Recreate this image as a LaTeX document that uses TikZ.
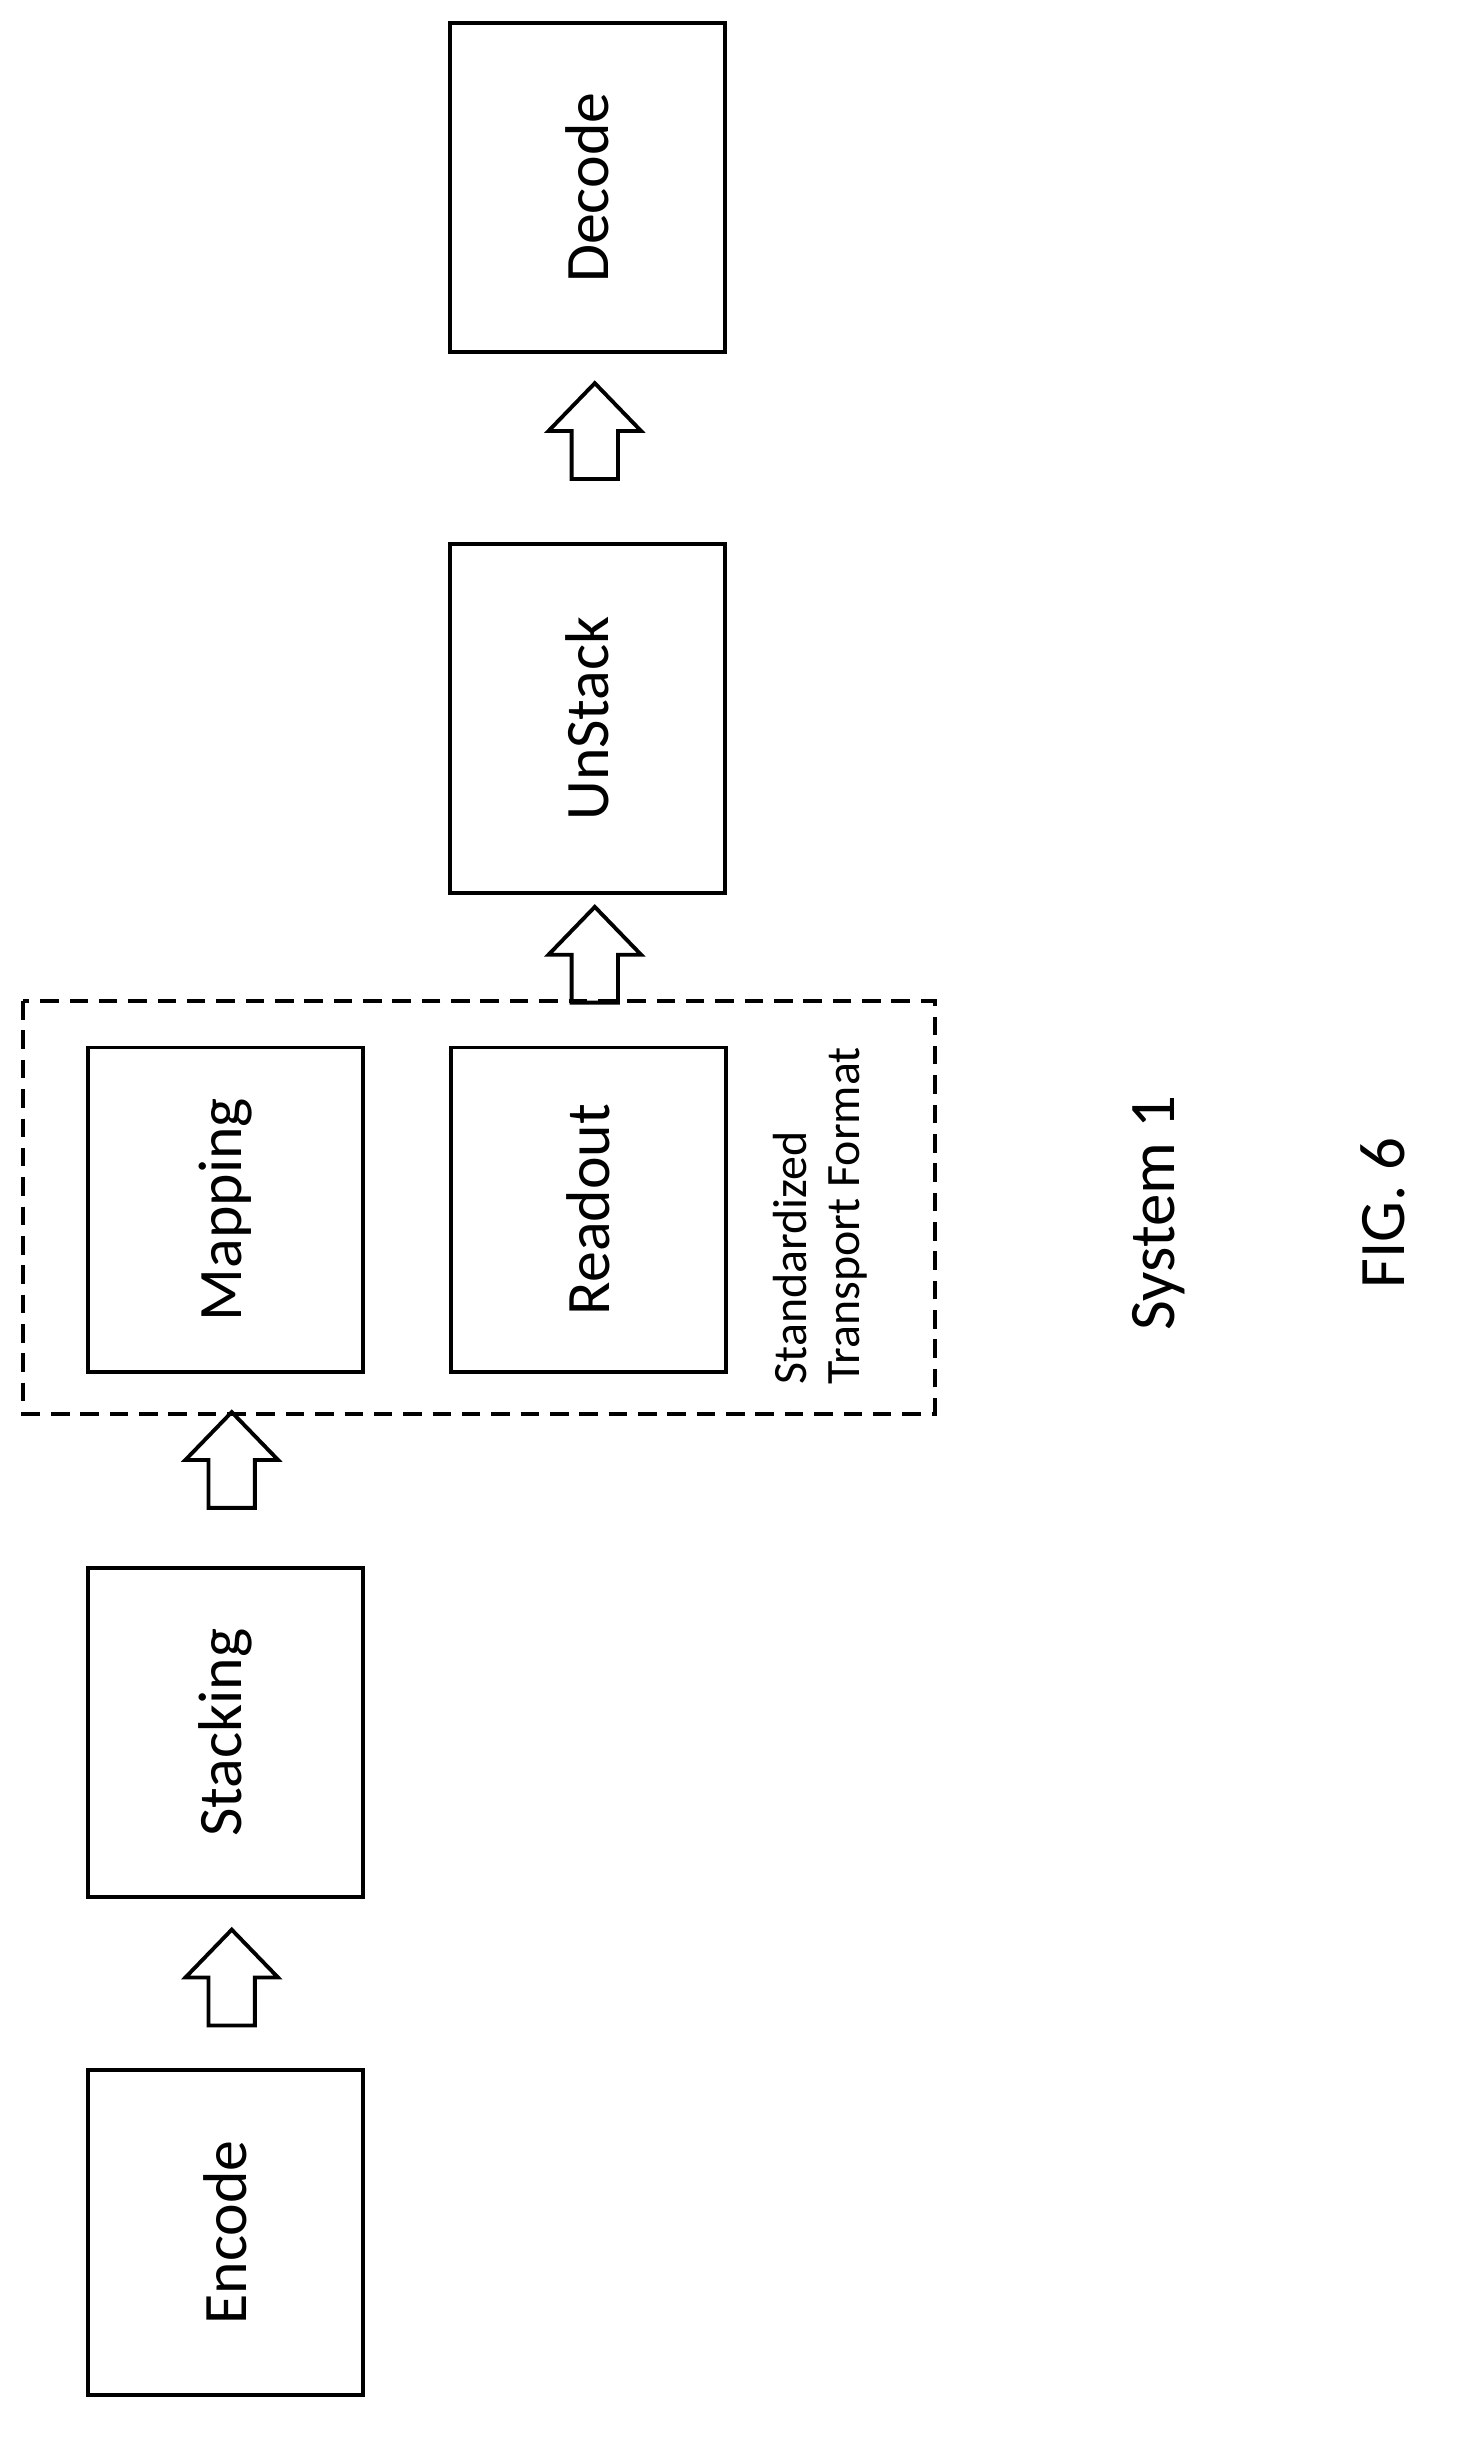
\documentclass[tikz,border=0pt]{standalone}
\usepackage{fontspec}
\setmainfont{Carlito}
\begin{document}
\begin{tikzpicture}[x=1pt,y=-1pt,
  box/.style={draw,line width=2.5pt,minimum width=178pt,minimum height=212pt,inner sep=0pt},
  lbl/.style={rotate=90,font=\fontsize{40}{44}\selectfont},
  up/.style={draw,line width=2.5pt,line join=miter}]
\newcommand\uparr[2]{\draw[up] (#1,#2) -- ++(30,31) -- ++(-15,0) -- ++(0,31) -- ++(-30,0) -- ++(0,-31) -- ++(-15,0) -- cycle;}
\useasboundingbox (0,0) rectangle (943,1580);
\node[box,minimum height=213pt] (decode) at (380,121.5) {};
\node[lbl] at (decode) {Decode};
\node[box,minimum height=226pt] (unstack) at (380,465) {};
\node[lbl] at (unstack) {UnStack};
\node[box,minimum height=210pt] (mapping) at (146,783) {};
\node[lbl] at (mapping) {Mapping};
\node[box,minimum height=210pt] (readout) at (381,783) {};
\node[lbl] at (readout) {Readout};
\node[box,minimum height=213pt] (stacking) at (146,1121.5) {};
\node[lbl] at (stacking) {Stacking};
\node[box,minimum height=210pt] (encode) at (146,1445) {};
\node[lbl] at (encode) {Encode};
\draw[dashed,line width=2.5pt,dash pattern=on 12pt off 7pt] (15,648) rectangle (605,915);
\node[rotate=90,font=\fontsize{31}{34}\selectfont,align=left,anchor=center] (stf) at (531,787) {Standardized\\Transport Format};
\uparr{385}{248}
\uparr{385}{587}
\uparr{150}{914}
\uparr{150}{1249}
\node[lbl,font=\fontsize{42}{46}\selectfont] (sys) at (750,785) {System 1};
\node[lbl,font=\fontsize{42}{46}\selectfont] (fig) at (895,785) {FIG. 6};
\end{tikzpicture}
\end{document}
